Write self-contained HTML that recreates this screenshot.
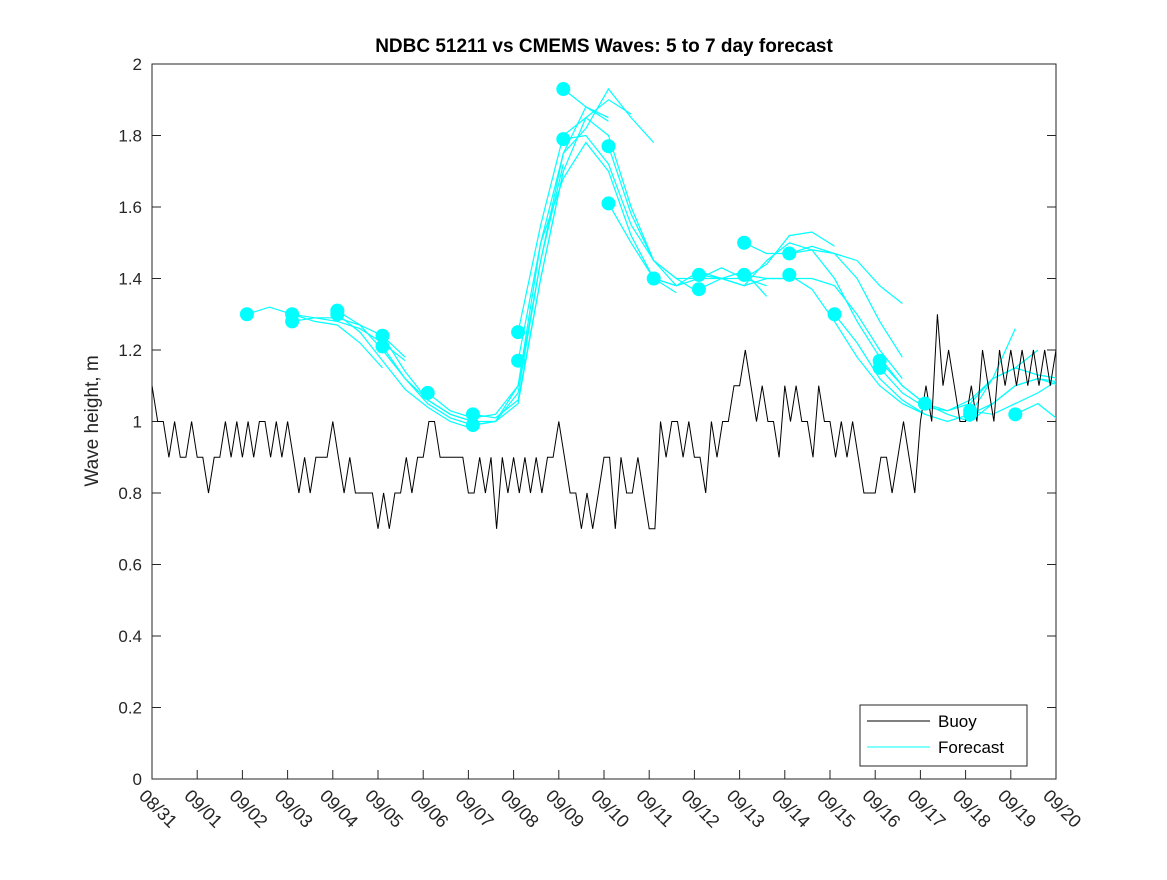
<!DOCTYPE html>
<html><head><meta charset="utf-8"><style>
body{margin:0;background:#fff;}
svg text{font-family:"Liberation Sans",sans-serif;}
</style></head><body>
<svg id="chart" width="1167" height="875" xmlns="http://www.w3.org/2000/svg">
<defs><clipPath id="clip"><rect x="152" y="64" width="904" height="715"/></clipPath></defs>
<rect x="0" y="0" width="1167" height="875" fill="#fff"/>
<rect x="152" y="64" width="904" height="715" fill="#fff" stroke="#262626" stroke-width="1"/>
<g id="axes"></g>
<g id="series" clip-path="url(#clip)"></g>
<text x="604" y="52" text-anchor="middle" font-size="19" font-weight="bold" fill="#000">NDBC 51211 vs CMEMS Waves: 5 to 7 day forecast</text>
<text transform="translate(98,421) rotate(-90)" text-anchor="middle" font-size="19" fill="#262626">Wave height, m</text>
<g>
<rect x="860" y="705" width="167" height="61" fill="#fff" stroke="#262626" stroke-width="1"/>
<line x1="867" y1="721" x2="930" y2="721" stroke="#000" stroke-width="1"/>
<text x="938" y="727" font-size="17" fill="#000">Buoy</text>
<line x1="867" y1="747" x2="930" y2="747" stroke="#00ffff" stroke-width="1"/>
<text x="938" y="753" font-size="17" fill="#000">Forecast</text>
</g>
</svg>
<script>
const xTickLabels=["08/31","09/01","09/02","09/03","09/04","09/05","09/06","09/07","09/08","09/09","09/10","09/11","09/12","09/13","09/14","09/15","09/16","09/17","09/18","09/19","09/20"];
const yTicks=[0,0.2,0.4,0.6,0.8,1,1.2,1.4,1.6,1.8,2];
const yTickLabels=["0","0.2","0.4","0.6","0.8","1","1.2","1.4","1.6","1.8","2"];
const buoyStep=0.125;
const buoyValues=[
1.1,1.0,1.0,0.9,1.0,0.9,0.9,1.0,
0.9,0.9,0.8,0.9,0.9,1.0,0.9,1.0,
0.9,1.0,0.9,1.0,1.0,0.9,1.0,0.9,
1.0,0.9,0.8,0.9,0.8,0.9,0.9,0.9,
1.0,0.9,0.8,0.9,0.8,0.8,0.8,0.8,
0.7,0.8,0.7,0.8,0.8,0.9,0.8,0.9,
0.9,1.0,1.0,0.9,0.9,0.9,0.9,0.9,
0.8,0.8,0.9,0.8,0.9,0.7,0.9,0.8,
0.9,0.8,0.9,0.8,0.9,0.8,0.9,0.9,
1.0,0.9,0.8,0.8,0.7,0.8,0.7,0.8,
0.9,0.9,0.7,0.9,0.8,0.8,0.9,0.8,
0.7,0.7,1.0,0.9,1.0,1.0,0.9,1.0,
0.9,0.9,0.8,1.0,0.9,1.0,1.0,1.1,
1.1,1.2,1.1,1.0,1.1,1.0,1.0,0.9,
1.1,1.0,1.1,1.0,1.0,0.9,1.1,1.0,
1.0,0.9,1.0,0.9,1.0,0.9,0.8,0.8,
0.8,0.9,0.9,0.8,0.9,1.0,0.9,0.8,
1.0,1.1,1.0,1.3,1.1,1.2,1.1,1.0,
1.0,1.1,1.0,1.2,1.1,1.0,1.2,1.1,
1.2,1.1,1.2,1.1,1.2,1.1,1.2,1.1,1.2];
const fcStep=0.5;
const fcStarts=[2.1,3.1,3.1,4.1,4.1,5.1,5.1,6.1,7.1,7.1,8.1,8.1,9.1,9.1,10.1,10.1,11.1,12.1,12.1,13.1,13.1,14.1,14.1,15.1,16.1,16.1,17.1,18.1,18.1,19.1];
const fcValues=[
[1.30,1.32,1.30,1.28,1.27,1.22,1.15],
[1.30,1.29,1.29,1.27,1.24,1.18],
[1.28,1.29,1.28,1.26,1.22,1.17],
[1.31,1.27,1.20,1.12,1.06,1.02,1.00],
[1.30,1.25,1.17,1.09,1.04,1.00,0.98],
[1.24,1.14,1.06,1.02,1.00,1.00,1.05,1.40,1.70],
[1.21,1.12,1.05,1.01,0.99,1.00,1.08,1.45,1.72],
[1.08,1.03,1.01,1.02,1.10,1.50,1.75,1.88,1.85],
[1.02,1.01,1.06,1.40,1.70,1.85,1.90,1.86],
[0.99,1.00,1.10,1.45,1.75,1.82,1.93,1.85,1.78],
[1.25,1.55,1.80,1.85,1.80,1.60,1.45,1.38],
[1.17,1.50,1.68,1.78,1.70,1.52,1.40,1.36],
[1.93,1.88,1.84],
[1.79,1.80,1.72,1.55,1.45,1.40,1.36],
[1.77,1.58,1.45,1.40,1.40,1.43,1.40,1.38],
[1.61,1.50,1.40,1.38,1.40,1.40,1.42,1.35],
[1.40,1.38,1.42,1.40,1.38,1.40,1.40],
[1.41,1.40,1.38,1.45,1.50,1.48,1.47,1.45,1.38,1.33],
[1.37,1.40,1.40,1.44,1.52,1.53,1.49],
[1.50,1.47,1.47,1.49,1.47,1.40,1.28,1.18],
[1.41,1.40,1.40,1.40,1.38,1.30,1.20,1.12],
[1.47,1.48,1.40,1.28,1.18,1.10,1.05],
[1.41,1.37,1.28,1.18,1.10,1.05,1.02],
[1.30,1.22,1.12,1.06,1.02,1.00,1.02,1.12,1.26],
[1.17,1.10,1.05,1.02,1.00,1.05,1.10,1.12,1.10],
[1.15,1.08,1.04,1.03,1.06,1.12,1.15,1.20],
[1.05,1.03,1.05,1.12,1.15,1.13,1.12],
[1.03,1.02,1.05,1.08,1.12,1.16,1.18],
[1.02,1.05,1.10,1.12,1.11,1.10],
[1.02,1.05,1.00,1.04]];
const NS="http://www.w3.org/2000/svg";
const X0=152,X1=1056,Y0=779,Y1=64,DAYS=20;
const xs=d=>X0+(X1-X0)*d/DAYS;
const ys=v=>Y0-(Y0-Y1)*v/2;
const axes=document.getElementById('axes'),series=document.getElementById('series');
function mk(tag,attrs,parent){const e=document.createElementNS(NS,tag);for(const k in attrs)e.setAttribute(k,attrs[k]);parent.appendChild(e);return e;}
xTickLabels.forEach((l,i)=>{const x=xs(i);
 const t=mk('line',{x1:x,y1:Y0,x2:x,y2:Y0-9,stroke:'#262626'},axes);
 
 
 const tx=mk('text',{transform:`translate(${x-14},${Y0+18}) rotate(45)`,'font-size':18,fill:'#262626'},axes);tx.textContent=l;
 
 
});
yTicks.forEach((v,i)=>{const y=ys(v);
 const t=mk('line',{x1:X0,y1:y,x2:X0+9,y2:y,stroke:'#262626'},axes);
 
 
 const t2=mk('line',{x1:X1,y1:y,x2:X1-9,y2:y,stroke:'#262626'},axes);
 
 
 const tx=mk('text',{x:X0-10,y:y+6,'text-anchor':'end','font-size':17,fill:'#262626'},axes);tx.textContent=yTickLabels[i];
 
 
});
fcValues.forEach((vals,r)=>{
 const pts=vals.map((v,j)=>xs(fcStarts[r]+j*fcStep).toFixed(1)+','+ys(v).toFixed(1)).join(' ');
 const pl=mk('polyline',{points:pts,fill:'none',stroke:'#00ffff','stroke-width':1.2},series);
 
 
});
const bp=buoyValues.map((v,i)=>xs(i*buoyStep).toFixed(1)+','+ys(v).toFixed(1)).join(' ');
const bl=mk('polyline',{points:bp,fill:'none',stroke:'#000','stroke-width':1},series);


fcValues.forEach((vals,r)=>{
 const c=mk('circle',{cx:xs(fcStarts[r]),cy:ys(vals[0]),r:7,fill:'#00ffff'},series);
 
 
});
</script>
</body></html>
